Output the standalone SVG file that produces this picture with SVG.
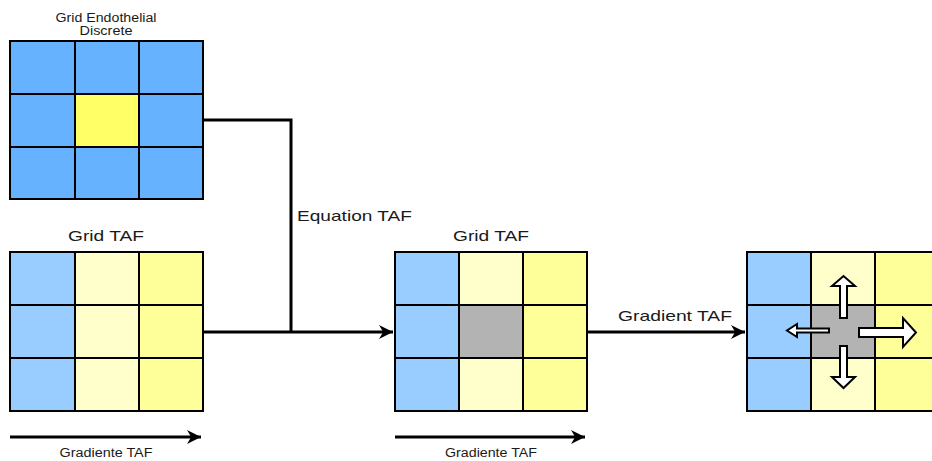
<svg xmlns="http://www.w3.org/2000/svg" width="932" height="461" viewBox="0 0 932 461">
  <style>
    .cell { stroke: #000; stroke-width: 2; }
    .b1 { fill: #66b2ff; }
    .y1 { fill: #ffff66; }
    .b2 { fill: #99ccff; }
    .y2 { fill: #ffffcc; }
    .y3 { fill: #ffff99; }
    .g { fill: #b3b3b3; }
    .wire { fill: none; stroke: #000; stroke-width: 3; }
    .blk { fill: #fff; stroke: #000; stroke-width: 2; stroke-linejoin: miter; }
    text { font-family: "Liberation Sans", Arial, sans-serif; fill: #1a1a1a; }
    .t15 { font-size: 15px; }
    .t11 { font-size: 12px; }
  </style>
  <defs>
    <marker id="headBig" viewBox="0 0 10 10" refX="10" refY="5" markerWidth="14" markerHeight="14" markerUnits="userSpaceOnUse" orient="auto">
      <path d="M0,0 L10,5 L0,10 L3,5 Z" fill="#000"/>
    </marker>
  </defs>

  <!-- discrete endothelial grid -->
  <g id="grid-endothelial">
    <text class="t11" x="106" y="22" text-anchor="middle" textLength="101" lengthAdjust="spacingAndGlyphs">Grid Endothelial</text>
    <text class="t11" x="106" y="35" text-anchor="middle" textLength="53" lengthAdjust="spacingAndGlyphs">Discrete</text>
    <rect class="cell b1" x="10" y="41" width="65" height="53"/>
    <rect class="cell b1" x="75" y="41" width="64" height="53"/>
    <rect class="cell b1" x="139" y="41" width="64" height="53"/>
    <rect class="cell b1" x="10" y="94" width="65" height="53"/>
    <rect class="cell y1" x="75" y="94" width="64" height="53"/>
    <rect class="cell b1" x="139" y="94" width="64" height="53"/>
    <rect class="cell b1" x="10" y="147" width="65" height="52"/>
    <rect class="cell b1" x="75" y="147" width="64" height="52"/>
    <rect class="cell b1" x="139" y="147" width="64" height="52"/>
  </g>

  <!-- TAF grid, input -->
  <g id="grid-taf-1">
    <text class="t15" x="106" y="241" text-anchor="middle" textLength="76" lengthAdjust="spacingAndGlyphs">Grid TAF</text>
    <rect class="cell b2" x="10" y="252" width="65" height="53"/>
    <rect class="cell y2" x="75" y="252" width="64" height="53"/>
    <rect class="cell y3" x="139" y="252" width="64" height="53"/>
    <rect class="cell b2" x="10" y="305" width="65" height="53"/>
    <rect class="cell y2" x="75" y="305" width="64" height="53"/>
    <rect class="cell y3" x="139" y="305" width="64" height="53"/>
    <rect class="cell b2" x="10" y="358" width="65" height="53"/>
    <rect class="cell y2" x="75" y="358" width="64" height="53"/>
    <rect class="cell y3" x="139" y="358" width="64" height="53"/>
  </g>

  <!-- TAF grid, evaluated cell -->
  <g id="grid-taf-2">
    <text class="t15" x="491" y="241" text-anchor="middle" textLength="76" lengthAdjust="spacingAndGlyphs">Grid TAF</text>
    <rect class="cell b2" x="395" y="252" width="64" height="53"/>
    <rect class="cell y2" x="459" y="252" width="64" height="53"/>
    <rect class="cell y3" x="523" y="252" width="64" height="53"/>
    <rect class="cell b2" x="395" y="305" width="64" height="53"/>
    <rect class="cell g" x="459" y="305" width="64" height="53"/>
    <rect class="cell y3" x="523" y="305" width="64" height="53"/>
    <rect class="cell b2" x="395" y="358" width="64" height="53"/>
    <rect class="cell y2" x="459" y="358" width="64" height="53"/>
    <rect class="cell y3" x="523" y="358" width="64" height="53"/>
  </g>

  <!-- TAF grid with migration directions -->
  <g id="grid-taf-3">
    <rect class="cell b2" x="747" y="252" width="64" height="53"/>
    <rect class="cell y2" x="811" y="252" width="64" height="53"/>
    <rect class="cell y3" x="875" y="252" width="64" height="53"/>
    <rect class="cell b2" x="747" y="305" width="64" height="53"/>
    <rect class="cell g" x="811" y="305" width="64" height="53"/>
    <rect class="cell y3" x="875" y="305" width="64" height="53"/>
    <rect class="cell b2" x="747" y="358" width="64" height="53"/>
    <rect class="cell y2" x="811" y="358" width="64" height="53"/>
    <rect class="cell y3" x="875" y="358" width="64" height="53"/>
    <!-- up -->
    <polygon class="blk" points="840,318 847,318 847,286 855,286 843.5,276 832,286 840,286"/>
    <!-- down -->
    <polygon class="blk" points="840,346 847,346 847,377 855,377 843.5,388 832,377 840,377"/>
    <!-- left -->
    <polygon class="blk" points="829,328.5 829,332.5 797,332.5 797,337 787,330.5 797,324 797,328.5"/>
    <!-- right -->
    <polygon class="blk" points="859,328 903,328 903,318 916,332.5 903,347 903,337 859,337"/>
  </g>

  <!-- connectors -->
  <g id="connectors">
    <polyline class="wire" points="203,120 291,120 291,332"/>
    <line class="wire" x1="203" y1="332" x2="393" y2="332" marker-end="url(#headBig)"/>
    <text class="t15" x="297" y="221" textLength="115" lengthAdjust="spacingAndGlyphs">Equation TAF</text>
    <line class="wire" x1="587" y1="332" x2="745" y2="332" marker-end="url(#headBig)"/>
    <text class="t15" x="618" y="321" textLength="114" lengthAdjust="spacingAndGlyphs">Gradient TAF</text>
    <line class="wire" x1="10" y1="437" x2="201" y2="437" marker-end="url(#headBig)"/>
    <text class="t11" x="106" y="457" text-anchor="middle" textLength="93" lengthAdjust="spacingAndGlyphs">Gradiente TAF</text>
    <line class="wire" x1="395" y1="437" x2="585" y2="437" marker-end="url(#headBig)"/>
    <text class="t11" x="491" y="457" text-anchor="middle" textLength="92" lengthAdjust="spacingAndGlyphs">Gradiente TAF</text>
  </g>
</svg>
